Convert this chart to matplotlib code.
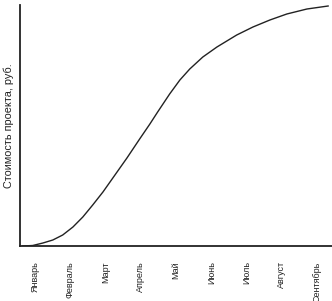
import matplotlib
matplotlib.use("Agg")
import matplotlib.pyplot as plt

months = ["Январь", "Февраль", "Март", "Апрель", "Май", "Июнь", "Июль", "Август", "Сентябрь"]
# curve readings: position in month units, cost (arbitrary units)
curve_x = [-0.34, -0.06, 0.23, 0.51, 0.79, 1.08, 1.36, 1.64, 1.93, 2.21, 2.61, 2.97, 3.26,
           3.48, 3.82, 4.11, 4.39, 4.76, 5.16, 5.72, 6.18, 6.66, 7.14, 7.71, 8.31]
curve_y = [0, 0.5, 3, 6, 11, 19, 29, 41, 54, 68, 88, 107, 122,
           134, 152, 166, 177, 189, 199, 211, 219, 226, 232, 237, 240]
ylabel = "Стоимость проекта, руб."

plt.rcParams['font.family'] = ['Liberation Sans', 'DejaVu Sans']
fig = plt.figure(figsize=(3.32, 3.01), dpi=100)
ax = fig.add_axes([20/332, 55/301, 312/332, 241/301])
ax.plot(curve_x, curve_y, color='#222222', lw=1.0, solid_joinstyle='round')
ax.set_xlim(-0.42, 8.42)
ax.set_ylim(0, 241)
ax.set_xticks(range(len(months)))
ax.set_xticklabels(months, rotation=90, fontsize=6.5, va='top', color='#222222')
ax.tick_params(axis='x', length=0, pad=11)
ax.set_yticks([])
for s in ['top', 'right']:
    ax.spines[s].set_visible(False)
for s in ['left', 'bottom']:
    ax.spines[s].set_linewidth(1.3)
    ax.spines[s].set_color('#222222')
ax.set_ylabel(ylabel, fontsize=7.8, color='#222222', labelpad=4)
fig.savefig("out.png", dpi=100)
